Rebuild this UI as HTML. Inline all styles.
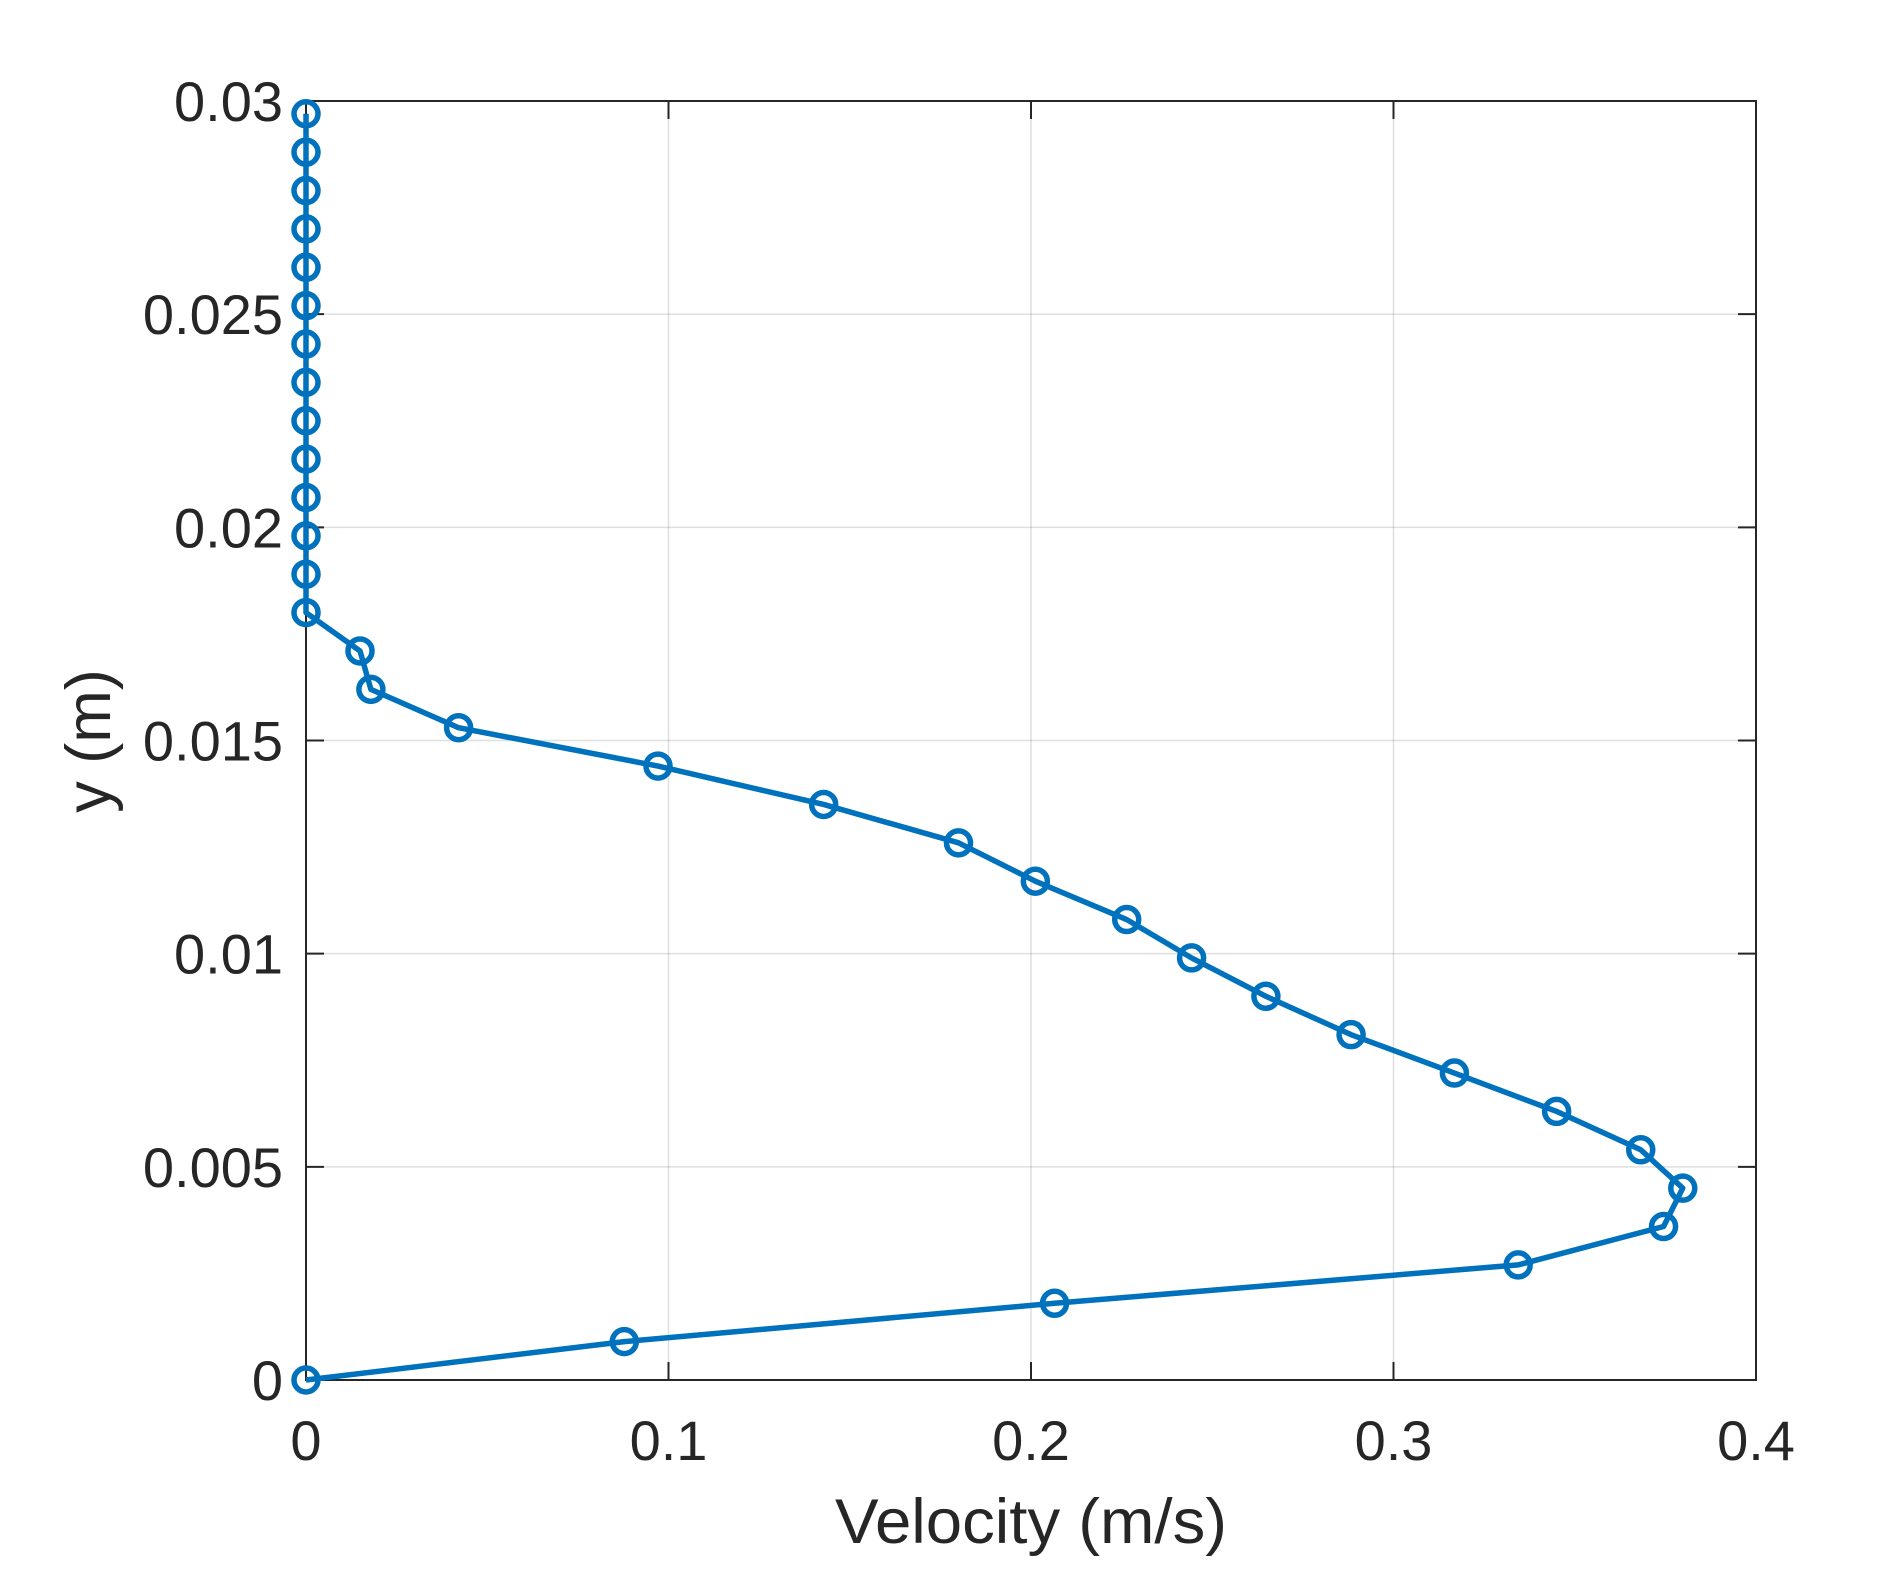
<!DOCTYPE html>
<html><head><meta charset="utf-8"><style>
html,body{margin:0;padding:0;background:#fff;}
svg{display:block;}
text{font-family:"Liberation Sans",sans-serif;fill:#262626;}
</style></head><body>
<svg id="chart" width="1883" height="1596" viewBox="0 0 1883 1596" xmlns="http://www.w3.org/2000/svg">
<rect width="1883" height="1596" fill="#fff"/>
<g id="grid"></g>
<g id="ticks"></g>
<rect x="306" y="101" width="1450" height="1279" fill="none" stroke="#262626" stroke-width="2"/>
<g id="series"></g>
<text x="1031" y="1543" font-size="63" text-anchor="middle" textLength="392" lengthAdjust="spacingAndGlyphs">Velocity (m/s)</text>
<text transform="translate(110,741) rotate(-90)" font-size="63" text-anchor="middle">y (m)</text>
</svg>
<script>
const yValues = [0,0.0009,0.0018,0.0027,0.0036,0.0045,0.0054,0.0063,0.0072,0.0081,0.009,0.0099,0.0108,0.0117,0.0126,0.0135,0.0144,0.0153,0.0162,0.0171,0.018,0.0189,0.0198,0.0207,0.0216,0.0225,0.0234,0.0243,0.0252,0.0261,0.027,0.0279,0.0288,0.0297];
const velocities = [0,0.0878,0.2065,0.3344,0.3745,0.3798,0.3682,0.345,0.3168,0.2883,0.2648,0.2443,0.2264,0.2012,0.18,0.1428,0.0971,0.0421,0.0179,0.0149,0,0,0,0,0,0,0,0,0,0,0,0,0,0];
const xTicks = [0,0.1,0.2,0.3,0.4];
const xTickLabels = ["0","0.1","0.2","0.3","0.4"];
const yTicks = [0,0.005,0.01,0.015,0.02,0.025,0.03];
const yTickLabels = ["0","0.005","0.01","0.015","0.02","0.025","0.03"];

const L=306,R=1756,T=101,B=1380;
const xs=v=>L+(v-0)/(0.4-0)*(R-L);
const ys=v=>B-(v-0)/(0.03-0)*(B-T);
const NS="http://www.w3.org/2000/svg";
function mk(tag,attrs,parent){const e=document.createElementNS(NS,tag);for(const k in attrs)e.setAttribute(k,attrs[k]);parent.appendChild(e);return e;}
const grid=document.getElementById('grid'),ticks=document.getElementById('ticks'),series=document.getElementById('series');

xTicks.forEach((t,i)=>{
  const x=xs(t);
  const g=mk('line',{x1:x,x2:x,y1:T,y2:B,stroke:'#262626','stroke-opacity':0.15,'stroke-width':1.5},grid);
  
  
  const a=mk('line',{x1:x,x2:x,y1:B,y2:B-18,stroke:'#262626','stroke-width':2},ticks);
  
  
  const b=mk('line',{x1:x,x2:x,y1:T,y2:T+18,stroke:'#262626','stroke-width':2},ticks);
  
  
  const tx=mk('text',{x:x,y:1460,'font-size':56,'text-anchor':'middle'},ticks);
  tx.textContent=xTickLabels[i];
  
  
});
yTicks.forEach((t,i)=>{
  const y=ys(t);
  const g=mk('line',{x1:L,x2:R,y1:y,y2:y,stroke:'#262626','stroke-opacity':0.15,'stroke-width':1.5},grid);
  
  
  const a=mk('line',{x1:L,x2:L+18,y1:y,y2:y,stroke:'#262626','stroke-width':2},ticks);
  
  
  const b=mk('line',{x1:R,x2:R-18,y1:y,y2:y,stroke:'#262626','stroke-width':2},ticks);
  
  
  const tx=mk('text',{x:283,y:y+20,'font-size':56,'text-anchor':'end'},ticks);
  tx.textContent=yTickLabels[i];
  
  
});
const pts=velocities.map((v,i)=>xs(v)+','+ys(yValues[i])).join(' ');
const pl=mk('polyline',{points:pts,fill:'none',stroke:'#0072BD','stroke-width':5.5,'stroke-linejoin':'round'},series);


velocities.forEach((v,i)=>{
  const c=mk('circle',{cx:xs(v),cy:ys(yValues[i]),r:12,fill:'none',stroke:'#0072BD','stroke-width':5.5},series);
  
  
});
</script>
</body></html>
